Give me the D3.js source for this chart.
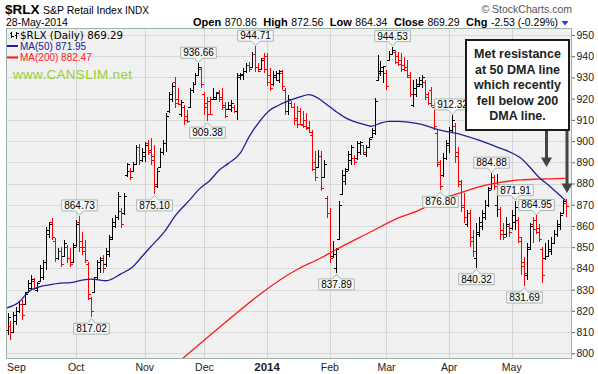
<!DOCTYPE html>
<html>
<head>
<meta charset="utf-8">
<script src="https://cdn.jsdelivr.net/npm/d3@7"></script>
<style>
  body { margin: 0; background: #fff; }
  svg { display: block; font-family: "Liberation Sans", Arial, sans-serif; }
</style>
</head>
<body>
<svg id="chart" width="598" height="374"></svg>
<script>
// daily bars, 28-Aug-2013 .. 28-May-2014
const opens = [
  811, 813, 810, 815, 820, 823, 823, 829, 831, 834,
  830, 834, 836, 843, 856, 862, 853, 845, 848, 846,
  850, 845, 843, 851, 862, 853, 850, 842, 826, 829,
  836, 840, 845, 842, 847, 855, 860, 864, 867, 866,
  884, 886, 886, 889, 897, 891, 893, 899, 896, 893,
  879, 888, 895, 899, 914, 920, 928, 920, 913, 916,
  912, 916, 924, 927, 931, 934, 922, 918, 919, 920,
  920, 923, 921, 917, 915, 915, 916, 914, 930, 931,
  933, 936, 935, 941, 935, 934, 939, 940, 931, 927,
  930, 929, 932, 924, 914, 918, 916, 911, 914, 908,
  910, 906, 903, 890, 888, 893, 883, 873, 866, 846,
  840, 854, 875, 881, 887, 891, 892, 892, 895, 898,
  894, 897, 902, 904, 929, 933, 933, 932, 938, 941,
  942, 940, 938, 936, 935, 930, 917, 922, 926, 927,
  928, 922, 924, 916, 904, 889, 884, 892, 898, 905,
  907, 895, 880, 870, 861, 866, 855, 845, 856, 860,
  864, 870, 878, 883, 870, 868, 858, 856, 860, 859,
  862, 863, 853, 843, 837, 850, 861, 863, 859, 849,
  845, 846, 848, 852, 856, 860, 866, 870.86
];
const highs = [
  819.0, 815.1, 819.5, 821.8, 824.2, 825.1, 828.9, 834.5, 836.9, 835.4,
  833.6, 841.6, 843.9, 859.5, 861.9, 863.8, 854.4, 849.6, 850.1, 853.4,
  851.0, 849.6, 852.0, 862.8, 864.73, 857.2, 853.4, 843.0, 826.5, 836.0,
  843.9, 845.4, 846.3, 849.6, 855.7, 863.8, 865.3, 876.0, 868.5, 875.5,
  889.7, 887.3, 890.1, 898.2, 898.6, 896.7, 899.6, 900.5, 901.5, 898.2,
  887.3, 896.7, 900.5, 913.2, 923.1, 927.4, 930.2, 925.0, 919.4, 917.0,
  914.7, 925.0, 927.8, 932.1, 936.66, 934.9, 923.1, 920.8, 920.8, 925.0,
  923.1, 924.1, 925.0, 918.4, 918.4, 919.4, 917.0, 932.1, 932.1, 934.4,
  936.8, 937.3, 942.0, 944.71, 936.8, 939.2, 941.5, 941.5, 934.4, 933.0,
  933.0, 933.5, 933.5, 925.0, 921.7, 918.9, 918.0, 916.5, 915.6, 914.2,
  913.2, 909.5, 905.2, 895.3, 895.8, 895.3, 891.1, 874.1, 868.5, 852.9,
  849.6, 871.8, 886.4, 887.3, 895.3, 898.2, 893.4, 900.0, 900.0, 898.2,
  898.2, 901.5, 906.2, 920.3, 940.6, 937.7, 935.4, 933.5, 942.5, 944.53,
  943.0, 942.0, 941.5, 939.5, 938.2, 932.6, 928.8, 929.5, 930.2, 931.0,
  928.8, 923.1, 925.5, 918.0, 905.2, 891.1, 894.4, 900.5, 906.6, 912.32,
  908.5, 897.2, 881.7, 875.5, 867.5, 867.5, 858.1, 861.4, 864.2, 867.5,
  872.2, 878.4, 884.88, 884.0, 884.5, 869.0, 861.4, 864.2, 861.4, 867.5,
  871.91, 864.2, 854.8, 845.4, 852.0, 861.4, 864.2, 864.95, 861.0, 850.1,
  852.0, 853.4, 854.8, 858.1, 862.8, 866.6, 872.2, 872.56
];
const lows = [
  808.6, 806.3, 809.6, 813.3, 819.0, 815.7, 822.7, 828.4, 829.8, 829.8,
  828.9, 833.6, 834.5, 839.3, 854.4, 853.4, 843.0, 843.9, 840.7, 845.4,
  842.6, 840.7, 843.0, 850.1, 847.7, 846.3, 842.6, 825.1, 817.02, 828.4,
  834.5, 837.8, 837.8, 840.7, 845.4, 853.4, 859.0, 862.8, 859.0, 865.2,
  883.1, 881.7, 885.4, 888.7, 888.7, 890.1, 890.1, 893.4, 888.7, 875.10,
  877.9, 887.3, 893.4, 894.9, 913.2, 918.4, 915.6, 917.0, 911.4, 907.6,
  908.5, 915.6, 922.7, 926.4, 930.5, 925.0, 912.3, 909.38, 912.5, 919.4,
  919.4, 918.4, 914.7, 910.9, 914.7, 913.7, 913.2, 910.0, 928.8, 928.8,
  932.1, 932.6, 934.9, 932.6, 932.6, 933.5, 932.1, 926.0, 923.6, 926.0,
  928.3, 927.4, 924.1, 912.3, 912.3, 915.6, 907.6, 906.2, 907.4, 906.2,
  905.2, 903.8, 885.9, 881.2, 887.3, 876.5, 882.6, 863.8, 842.6, 844.9,
  837.89, 853.4, 874.6, 879.3, 885.9, 888.7, 888.7, 891.1, 893.4, 893.4,
  892.5, 896.7, 901.5, 902.9, 928.3, 930.7, 927.4, 924.1, 937.7, 940.6,
  936.5, 935.5, 932.6, 933.0, 929.8, 920.8, 916.1, 921.0, 925.5, 925.0,
  919.4, 917.0, 916.1, 905.2, 887.8, 876.80, 883.1, 891.1, 894.4, 903.8,
  889.7, 878.4, 866.6, 861.4, 859.5, 850.1, 845.4, 840.32, 854.8, 858.1,
  862.8, 868.9, 877.0, 877.0, 864.2, 853.4, 853.4, 854.8, 854.8, 858.1,
  858.1, 852.0, 836.9, 831.69, 834.5, 848.7, 852.0, 856.0, 852.5, 833.1,
  844.0, 845.4, 846.3, 852.0, 854.8, 858.1, 865.8, 864.34
];
const closes = [
  817, 810, 818, 820, 823, 818, 828, 833, 835, 831,
  833.2, 840, 843, 858, 861, 855, 845, 848, 842, 852,
  845, 842, 850, 861, 850, 848, 844, 828, 820, 835,
  843, 844, 840, 848, 854, 862, 864, 874, 861, 874,
  889, 883, 889, 897, 891, 895, 898, 895, 891, 880,
  886, 895, 899, 912, 922, 926, 918, 917.5, 918.5, 910,
  909.5, 924, 927, 931, 935, 927, 916, 913, 912.8, 921,
  922.5, 920, 916, 912, 917, 918, 914, 931, 931.8, 933,
  936, 934, 941, 935, 933, 938, 934, 928, 925, 931,
  932, 933, 926, 914, 920, 916, 910, 908, 907.6, 907,
  906.5, 904.5, 887, 883, 893, 878, 889, 866, 845, 847,
  849, 870, 884, 886, 894, 897, 890, 899, 899.5, 895,
  897, 901, 905, 919, 932, 935, 935.2, 926, 941, 943,
  937.5, 936.5, 934, 933.5, 931, 922, 925, 927, 929, 930,
  921, 918, 917, 907, 890, 879, 892, 899, 905, 910,
  893, 881, 869, 864, 866, 853, 848, 857, 862, 866,
  870, 877, 883, 879, 880, 856, 855, 861, 857, 865,
  869, 855, 841, 838, 849, 860, 858.5, 857, 854, 837,
  846, 849, 852, 856, 861, 865, 871.82, 869.29
];

// moving averages, sampled along the drawn lines
const ma50Idx = [-0.5, 4, 7, 11, 14, 17, 21, 25, 28, 31, 33, 38, 42, 45, 48, 53, 56, 61, 64, 68,
  71, 74, 78, 81, 84, 88, 91, 95, 98, 101, 104, 107, 110, 113, 116, 120, 122, 125, 128, 131,
  138, 145, 152, 158, 165, 169, 172, 175, 178, 182, 185, 187];
const ma50Val = [821.3, 824.3, 829.0, 831.4, 832.2, 833.0, 833.3, 834.5, 835.0, 834.5, 834.2, 837.4, 840.8, 845.5, 850.2, 858.1, 864.4, 872.2, 877.0, 881.7,
  886.4, 889.5, 894.3, 902.1, 908.4, 914.7, 917.0, 919.4, 920.8, 921.9, 920.3, 917.2, 914.0, 911.2, 909.3, 907.7, 907.0, 908.5, 909.3, 909.3,
  908.1, 905.2, 903.1, 900.5, 896.7, 894.4, 892.0, 887.8, 883.1, 878.4, 874.6, 871.95];
const ma200Idx = [57, 66, 98, 105, 110, 121, 131, 138, 145, 152, 158, 165, 172, 178, 187];
const ma200Val = [795.5, 806.3, 840.2, 844.9, 848.8, 856.7, 863.8, 867.5, 872.7, 875.7, 878.4, 880.5, 881.7, 882.1, 882.47];

const monthNames = ["Sep", "Oct", "Nov", "Dec", "2014", "Feb", "Mar", "Apr", "May"];
const monthIdx = [3, 23, 46, 66, 87, 108, 127, 148, 169];
const priceTicks = [800, 810, 820, 830, 840, 850, 860, 870, 880, 890, 900, 910, 920, 930, 940, 950];

const peakIdx = [24, 64, 83, 129, 149, 162, 170, 177];
const troughIdx = [28, 49, 67, 110, 145, 157, 173];

const noteLines = ["Met resistance", "at 50 DMA line", "which recently", "fell below 200", "DMA line."];

const svg = d3.select("#chart");
const plot = {left: 6, right: 572, top: 28, bottom: 359};

const x = d3.scaleLinear().domain([0, closes.length - 1]).range([7.5, 565.5]);
const y = d3.scaleLinear().domain([800, 950]).range([353.3, 35]);

// header
svg.append("text").attr("x", 5).attr("y", 14).attr("font-size", 13.5).attr("font-weight", "bold").text("$RLX");
svg.append("text").attr("x", 43).attr("y", 14).attr("font-size", 10.5).text("S&P Retail Index");
svg.append("text").attr("x", 125).attr("y", 14).attr("font-size", 10).text("INDX");
svg.append("text").attr("x", 6).attr("y", 26).attr("font-size", 10.5).text("28-May-2014");
svg.append("text").attr("x", 572).attr("y", 12.5).attr("font-size", 10.5).attr("fill", "#555")
  .attr("text-anchor", "end").text("\u00a9 StockCharts.com");

const quote = [["Open", "870.86"], ["High", "872.56"], ["Low", "864.34"], ["Close", "869.29"], ["Chg", "-2.53 (-0.29%)"]];
let qx = 193;
quote.forEach(q => {
  const a = svg.append("text").attr("x", qx).attr("y", 26).attr("font-size", 11).attr("font-weight", "bold").text(q[0]);
  qx += a.node().getComputedTextLength() + 3.5;
  const b = svg.append("text").attr("x", qx).attr("y", 26).attr("font-size", 10.5).text(q[1]);
  qx += b.node().getComputedTextLength() + 6.5;
});
svg.append("path").attr("d", `M${qx - 3},21 L${qx + 4},21 L${qx + 0.5},25.5 Z`).attr("fill", "#1a3cff");

// plot area
svg.append("rect").attr("x", plot.left).attr("y", plot.top)
  .attr("width", plot.right - plot.left).attr("height", plot.bottom - plot.top)
  .attr("fill", "#f1f1f1");

const grid = svg.append("g").attr("shape-rendering", "crispEdges");
grid.selectAll(".hg").data(priceTicks).enter().append("line")
  .attr("x1", plot.left).attr("x2", plot.right)
  .attr("y1", d => Math.round(y(d)) + 0.5).attr("y2", d => Math.round(y(d)) + 0.5)
  .attr("stroke", "#d9d9d9");
grid.selectAll(".vg").data(monthIdx.slice(1)).enter().append("line")
  .attr("x1", d => Math.round(x(d)) + 0.5).attr("x2", d => Math.round(x(d)) + 0.5)
  .attr("y1", plot.top).attr("y2", plot.bottom)
  .attr("stroke", "#d4d4d4");

svg.append("clipPath").attr("id", "clip").append("rect")
  .attr("x", plot.left).attr("y", plot.top)
  .attr("width", plot.right - plot.left).attr("height", plot.bottom - plot.top);

// price bars
const bars = svg.append("g").attr("shape-rendering", "crispEdges");
closes.forEach((c, i) => {
  const up = i === 0 ? c >= opens[i] : c >= closes[i - 1];
  const col = up ? "#000" : "#f00";
  const xi = Math.round(x(i)) + 0.5;
  bars.append("line").attr("x1", xi).attr("x2", xi)
    .attr("y1", y(highs[i])).attr("y2", y(lows[i])).attr("stroke", col);
  const yo = Math.round(y(opens[i])) + 0.5;
  const yc = Math.round(y(c)) + 0.5;
  bars.append("line").attr("x1", xi - 2.5).attr("x2", xi).attr("y1", yo).attr("y2", yo).attr("stroke", col);
  bars.append("line").attr("x1", xi).attr("x2", xi + 2.5).attr("y1", yc).attr("y2", yc).attr("stroke", col);
});

// moving averages
const maLine = d3.line().x(d => x(d[0])).y(d => y(d[1])).curve(d3.curveMonotoneX);
const lines = svg.append("g").attr("clip-path", "url(#clip)");
lines.append("path").attr("d", maLine(d3.zip(ma200Idx, ma200Val)))
  .attr("fill", "none").attr("stroke", "#ff1a1a").attr("stroke-width", 1.3);
lines.append("path").attr("d", maLine(d3.zip(ma50Idx, ma50Val)))
  .attr("fill", "none").attr("stroke", "#202098").attr("stroke-width", 1.3);

// high / low value labels
function valueLabel(i, above) {
  const cx = Math.round(x(i)) + 0.5;
  const v = above ? highs[i] : lows[i];
  const g = svg.append("g");
  const path = g.append("path");
  const t = g.append("text").attr("font-size", 10).attr("text-anchor", "middle").text(v.toFixed(2));
  const w = t.node().getComputedTextLength() + 5;
  const h = 11, gap = 5;
  const l = cx - w / 2, r = cx + w / 2;
  let d;
  if (above) {
    const b = y(v) - gap, tp = b - h;
    d = `M${l},${tp} L${r},${tp} L${r},${b} L${cx + 4},${b} L${cx},${b + 4.5} L${cx - 4},${b} L${l},${b} Z`;
    t.attr("x", cx).attr("y", b - 2);
  } else {
    const tp = y(v) + gap + 1, b = tp + h;
    d = `M${l},${tp} L${cx - 4},${tp} L${cx},${tp - 4.5} L${cx + 4},${tp} L${r},${tp} L${r},${b} L${l},${b} Z`;
    t.attr("x", cx).attr("y", b - 2);
  }
  path.attr("d", d).attr("fill", "#f7f7f7").attr("stroke", "#a6b8ae").attr("stroke-width", 1);
}
peakIdx.forEach(i => valueLabel(i, true));
troughIdx.forEach(i => valueLabel(i, false));

// legend
const icon = svg.append("g").attr("stroke", "#000").attr("shape-rendering", "crispEdges");
icon.append("line").attr("x1", 11.5).attr("x2", 11.5).attr("y1", 32).attr("y2", 38);
icon.append("line").attr("x1", 9.5).attr("x2", 11.5).attr("y1", 33.5).attr("y2", 33.5);
icon.append("line").attr("x1", 11.5).attr("x2", 13.5).attr("y1", 36.5).attr("y2", 36.5);
icon.append("line").attr("x1", 16.5).attr("x2", 16.5).attr("y1", 32).attr("y2", 39);
icon.append("line").attr("x1", 14.5).attr("x2", 16.5).attr("y1", 35.5).attr("y2", 35.5);
icon.append("line").attr("x1", 16.5).attr("x2", 18.5).attr("y1", 33.5).attr("y2", 33.5);
svg.append("text").attr("x", 20).attr("y", 39).attr("font-family", "DejaVu Sans").attr("font-size", 10.3)
  .text("$RLX (Daily) 869.29");
svg.append("rect").attr("x", 7).attr("y", 45).attr("width", 11).attr("height", 2).attr("fill", "#202098");
svg.append("text").attr("x", 20).attr("y", 49.5).attr("font-size", 10).attr("fill", "#202098").text("MA(50) 871.95");
svg.append("rect").attr("x", 7).attr("y", 56.5).attr("width", 11).attr("height", 2).attr("fill", "#ff1a1a");
svg.append("text").attr("x", 20).attr("y", 61).attr("font-size", 10).attr("fill", "#ff1a1a").text("MA(200) 882.47");
svg.append("text").attr("x", 13).attr("y", 79).attr("font-size", 13.5).attr("letter-spacing", 0.3)
  .attr("fill", "#9acd32").text("www.CANSLIM.net");

// right axis
const axis = svg.append("g").attr("transform", `translate(${plot.right},0)`)
  .call(d3.axisRight(y).tickValues(priceTicks).tickSize(3).tickPadding(1.5));
axis.select(".domain").remove();
axis.selectAll("line").attr("stroke", "#666");
axis.selectAll("text").attr("font-family", "Liberation Sans, Arial, sans-serif").attr("font-size", 10.5).attr("fill", "#222");

// plot border
svg.append("rect").attr("x", plot.left + 0.5).attr("y", plot.top + 0.5)
  .attr("width", plot.right - plot.left - 1).attr("height", plot.bottom - plot.top - 1)
  .attr("fill", "none").attr("stroke", "#9db3a8").attr("shape-rendering", "crispEdges");

// month labels
svg.selectAll(".mlab").data(monthNames).enter().append("text")
  .attr("x", (d, i) => x(monthIdx[i]))
  .attr("y", 371)
  .attr("text-anchor", "middle")
  .attr("font-size", (d, i) => i === 4 ? 11.5 : 10.5)
  .attr("font-weight", (d, i) => i === 4 ? "bold" : "normal")
  .attr("fill", "#222")
  .text(d => d);

// annotation
const note = svg.append("g");
note.append("rect").attr("x", 466).attr("y", 40).attr("width", 103).attr("height", 90)
  .attr("fill", "#fff").attr("stroke", "#1a1a1a").attr("stroke-width", 2);
noteLines.forEach((s, i) => {
  note.append("text").attr("x", 517.5).attr("y", 58 + i * 15.5)
    .attr("text-anchor", "middle").attr("font-size", 12.5).attr("font-weight", "bold")
    .attr("fill", "#222").text(s);
});
function arrow(ax, y0, tip) {
  note.append("rect").attr("x", ax - 1.5).attr("y", y0).attr("width", 3).attr("height", tip - 9 - y0).attr("fill", "#444");
  note.append("path").attr("d", `M${ax - 5.5},${tip - 9.5} L${ax + 5.5},${tip - 9.5} L${ax},${tip} Z`).attr("fill", "#444");
}
arrow(546.5, 131, 167);
arrow(567, 131, 193);
</script>
</body>
</html>
